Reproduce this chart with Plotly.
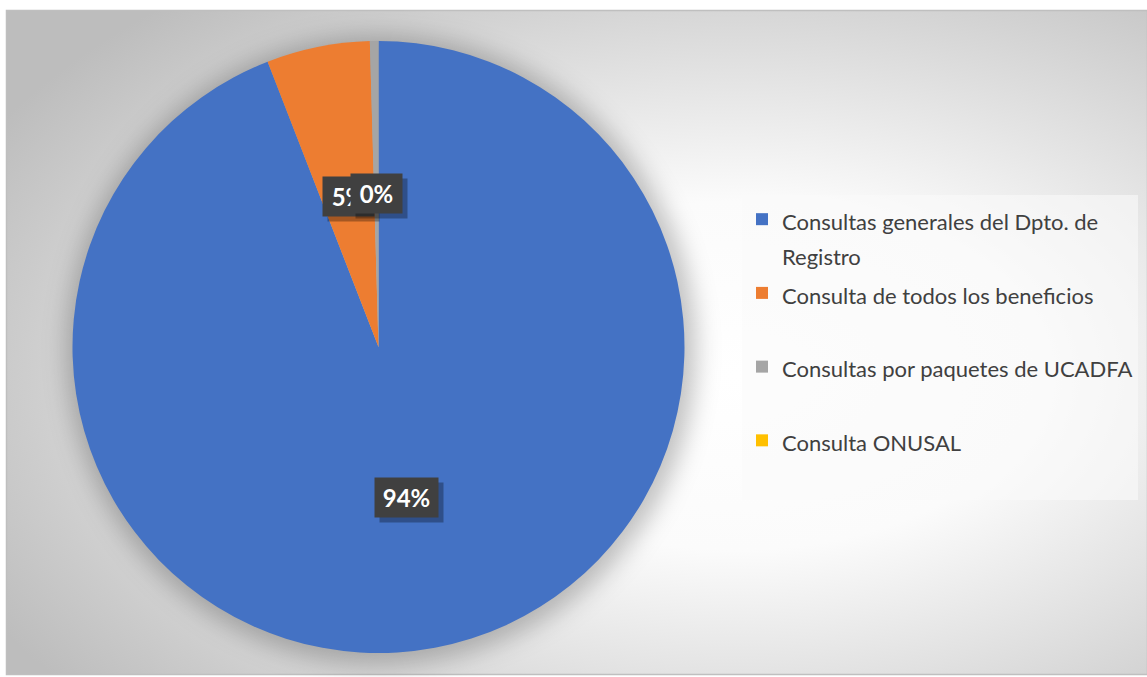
import math
import urllib.parse
import plotly.graph_objects as go

labels = [
    "Consultas generales del Dpto. de<br>Registro",
    "Consulta de todos los beneficios<br> ",
    "Consultas por paquetes de UCADFA<br> ",
    "Consulta ONUSAL<br> ",
]
values = [94.1, 5.45, 0.45, 0.0]
colors = ["#4472C4", "#ED7D31", "#A5A5A5", "#FFC000"]

W, H = 1147, 677
pie_left, pie_right, pie_top, pie_bottom = 72, 685, 41, 653
cx = (pie_left + pie_right) / 2
cy = (pie_top + pie_bottom) / 2
R = (pie_right - pie_left) / 2

bg_svg = f"""<svg xmlns='http://www.w3.org/2000/svg' width='{W}' height='{H}' viewBox='0 0 {W} {H}'>
<defs>
<radialGradient id='g' cx='0.64' cy='0.55' r='0.75'>
<stop offset='0' stop-color='#ffffff'/>
<stop offset='0.35' stop-color='#fbfbfb'/>
<stop offset='1' stop-color='#bdbdbd'/>
</radialGradient>
<filter id='b' x='-20%' y='-20%' width='140%' height='140%'><feGaussianBlur stdDeviation='12'/></filter>
</defs>
<rect x='0' y='0' width='{W}' height='{H}' fill='#ffffff'/>
<rect x='6.5' y='10.5' width='{W-6}' height='{H-13}' fill='url(#g)' stroke='#bfbfbf' stroke-width='1.5'/>
<circle cx='{cx+3}' cy='{cy+3}' r='{R+8}' fill='#000000' fill-opacity='0.24' filter='url(#b)'/>
</svg>"""
bg_uri = "data:image/svg+xml;charset=utf-8," + urllib.parse.quote(bg_svg)

legend_labels = [f"<span style='font-size:22px'>{t}</span>" for t in labels]

fig = go.Figure()
fig.add_trace(go.Pie(
    labels=legend_labels,
    values=values,
    marker=dict(colors=colors, line=dict(width=0)),
    sort=False,
    direction="clockwise",
    rotation=0,
    textinfo="none",
    hoverinfo="label+percent",
    domain=dict(x=[pie_left / W, pie_right / W], y=[1 - pie_bottom / H, 1 - pie_top / H]),
    showlegend=True,
))

# data labels at half radius, from cumulative shares
total = sum(values)
annotations = []
cum = 0.0
for i, v in enumerate(values):
    frac = v / total
    if v > 0:
        theta = 2 * math.pi * (cum + frac / 2)
        px = cx + 0.5 * R * math.sin(theta)
        py = cy - 0.5 * R * math.cos(theta)
        txt = f"{round(frac * 100):d}%"
        w = 57 if len(txt) > 2 else 45
        common = dict(x=px / W, y=1 - py / H, xref="paper", yref="paper",
                      xanchor="center", yanchor="middle",
                      showarrow=False, width=w, height=33, borderpad=3)
        annotations.append(dict(text=f"<b>{txt}</b>", bgcolor="rgba(0,0,0,0.3)",
                                xshift=5, yshift=-5,
                                font=dict(family="Lato", size=24, color="rgba(0,0,0,0)"),
                                **common))
        annotations.append(dict(text=f"<b>{txt}</b>", bgcolor="#404040",
                                font=dict(family="Lato", size=24, color="#ffffff"),
                                **common))
    cum += frac

fig.update_layout(
    width=W, height=H,
    margin=dict(l=0, r=0, t=0, b=0),
    paper_bgcolor="#ffffff",
    plot_bgcolor="rgba(0,0,0,0)",
    images=[dict(source=bg_uri, xref="paper", yref="paper", x=0, y=1,
                 sizex=1, sizey=1, sizing="stretch", layer="below",
                 xanchor="left", yanchor="top")],
    legend=dict(
        x=742 / W, y=1 - 195 / H, xanchor="left", yanchor="top",
        bgcolor="rgba(250,250,250,0.6)",
        font=dict(family="Lato", size=27.2, color="#404040"),
        valign="top",
        itemclick=False,
        tracegroupgap=0,
    ),
    annotations=annotations,
)

fig.write_html("out.html", config={"displayModeBar": False},
               post_script="document.body.style.margin='0';document.body.style.padding='0';")
